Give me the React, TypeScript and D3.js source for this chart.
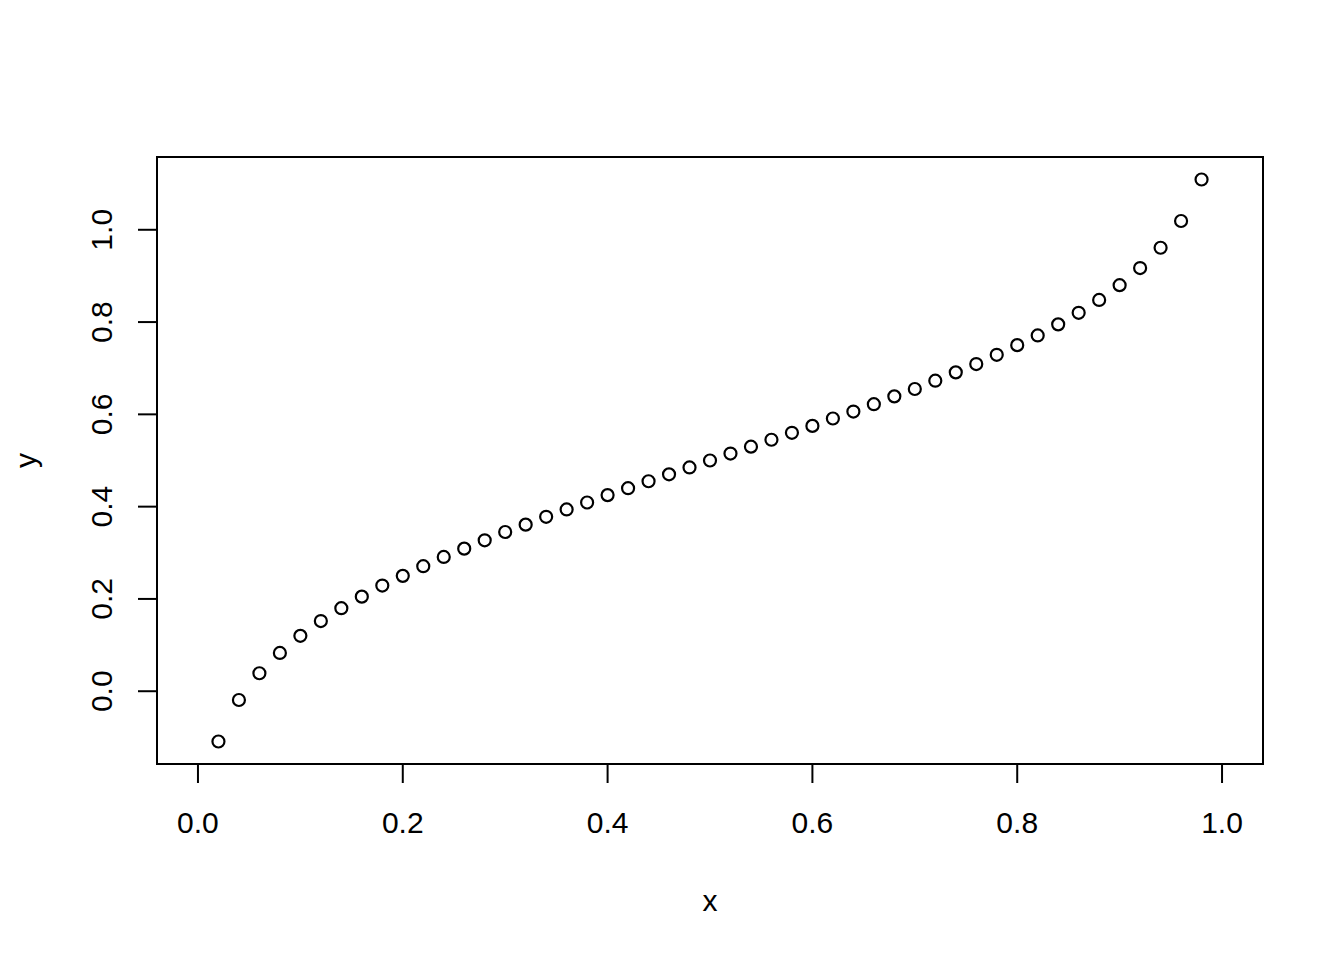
import React from "react";
import * as d3 from "d3";

const xValues: number[] = [
  0.02, 0.04, 0.06, 0.08, 0.1, 0.12, 0.14, 0.16, 0.18, 0.2, 0.22, 0.24, 0.26, 0.28, 0.3, 0.32,
  0.34, 0.36, 0.38, 0.4, 0.42, 0.44, 0.46, 0.48, 0.5, 0.52, 0.54, 0.56, 0.58, 0.6, 0.62, 0.64,
  0.66, 0.68, 0.7, 0.72, 0.74, 0.76, 0.78, 0.8, 0.82, 0.84, 0.86, 0.88, 0.9, 0.92, 0.94, 0.96, 0.98,
];
const yValues: number[] = [
  -0.109, -0.019, 0.039, 0.083, 0.12, 0.152, 0.18, 0.205, 0.229, 0.25, 0.271, 0.291, 0.309, 0.327,
  0.345, 0.361, 0.378, 0.394, 0.409, 0.425, 0.44, 0.455, 0.47, 0.485, 0.5, 0.515, 0.53, 0.545, 0.56,
  0.575, 0.591, 0.606, 0.622, 0.639, 0.655, 0.673, 0.691, 0.709, 0.729, 0.75, 0.771, 0.795, 0.82,
  0.848, 0.88, 0.917, 0.961, 1.019, 1.109,
];
const xTicks: number[] = [0, 0.2, 0.4, 0.6, 0.8, 1.0];
const yTicks: number[] = [0, 0.2, 0.4, 0.6, 0.8, 1.0];
const xLabel = "x";
const yLabel = "y";

const W = 1344;
const H = 960;
const left = 157;
const right = 1263;
const top = 157;
const bottom = 764;
const font = "'Liberation Sans', Arial, sans-serif";
const fs = 30;
const tickLen = 19;

export default function App() {
  const x = d3.scaleLinear().domain([-0.04, 1.04]).range([left, right]);
  const yExt = d3.extent(yValues) as [number, number];
  const pad = (yExt[1] - yExt[0]) * 0.04;
  const y = d3.scaleLinear().domain([yExt[0] - pad, yExt[1] + pad]).range([bottom, top]);

  return (
    <svg
      width={W}
      height={H}
      style={{ position: "absolute", left: 0, top: 0, background: "#fff" }}
    >
      <rect x={0} y={0} width={W} height={H} fill="#fff" />
      <rect
        x={left}
        y={top}
        width={right - left}
        height={bottom - top}
        fill="none"
        stroke="#000"
        strokeWidth={2}
      />
      {xTicks.map((t) => (
        <g key={"xt" + t}>
          <line x1={x(t)} x2={x(t)} y1={bottom} y2={bottom + tickLen} stroke="#000" strokeWidth={2} />
          <text
            x={x(t)}
            y={833}
            textAnchor="middle"
            fontFamily={font}
            fontSize={fs}
            fill="#000"
          >
            {t.toFixed(1)}
          </text>
        </g>
      ))}
      {yTicks.map((t) => (
        <g key={"yt" + t}>
          <line x1={left} x2={left - tickLen} y1={y(t)} y2={y(t)} stroke="#000" strokeWidth={2} />
          <text
            transform={`translate(112,${y(t)}) rotate(-90)`}
            textAnchor="middle"
            fontFamily={font}
            fontSize={fs}
            fill="#000"
          >
            {t.toFixed(1)}
          </text>
        </g>
      ))}
      <text x={(left + right) / 2} y={911} textAnchor="middle" fontFamily={font} fontSize={fs} fill="#000">
        {xLabel}
      </text>
      <text
        transform={`translate(36,${(top + bottom) / 2}) rotate(-90)`}
        textAnchor="middle"
        fontFamily={font}
        fontSize={fs}
        fill="#000"
      >
        {yLabel}
      </text>
      {xValues.map((xv, i) => (
        <circle
          key={i}
          cx={x(xv)}
          cy={y(yValues[i])}
          r={6}
          fill="none"
          stroke="#000"
          strokeWidth={2.2}
        />
      ))}
    </svg>
  );
}
